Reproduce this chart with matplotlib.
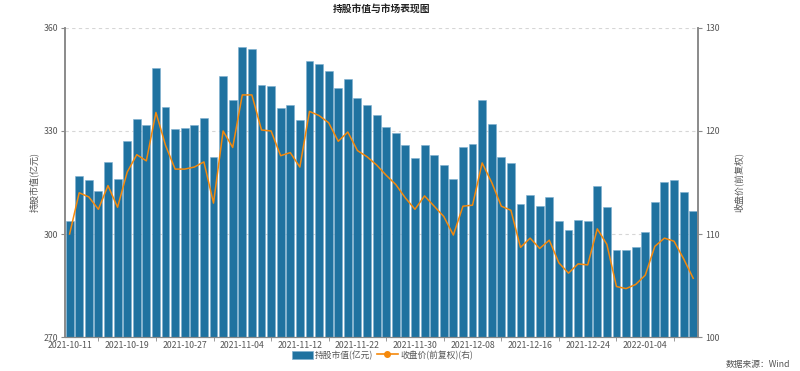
import pandas as pd
import matplotlib.pyplot as plt
from matplotlib.lines import Line2D
from matplotlib.patches import Patch

plt.rcParams['font.family'] = ['Noto Sans CJK SC', 'DejaVu Sans']

# 交易日 2021-10-11 ~ 2022-01-11（剔除元旦假期 2022-01-03）
dates = pd.bdate_range('2021-10-11', '2022-01-11')
dates = dates[dates != pd.Timestamp('2022-01-03')]
date_labels = [d.strftime('%Y-%m-%d') for d in dates]

market_value = [303.8, 316.9, 315.7, 312.4, 321.1, 316.0, 327.0, 333.4, 331.8, 348.2,
                336.9, 330.6, 331.0, 331.8, 333.8, 322.4, 345.9, 339.1, 354.5, 353.9,
                343.5, 343.0, 336.6, 337.6, 333.2, 350.5, 349.6, 347.6, 342.4, 345.1,
                339.5, 337.5, 334.6, 331.2, 329.4, 325.9, 322.0, 326.0, 323.1, 320.1,
                316.1, 325.4, 326.3, 339.0, 331.9, 322.3, 320.7, 308.6, 311.3, 308.3,
                310.9, 303.9, 301.1, 304.1, 303.8, 313.9, 307.8, 295.2, 295.2, 296.2,
                300.7, 309.4, 315.1, 315.8, 312.1, 306.7]

close_price = [110.0, 114.0, 113.6, 112.4, 114.7, 112.6, 116.0, 117.7, 117.1, 121.8,
               118.6, 116.3, 116.3, 116.5, 117.0, 113.0, 120.0, 118.4, 123.5, 123.5,
               120.1, 120.0, 117.6, 117.9, 116.5, 121.9, 121.5, 120.8, 119.0, 119.9,
               118.1, 117.5, 116.7, 115.7, 114.8, 113.5, 112.4, 113.7, 112.7, 111.7,
               109.9, 112.7, 112.8, 116.9, 115.0, 112.7, 112.3, 108.7, 109.6, 108.6,
               109.4, 107.2, 106.2, 107.1, 107.0, 110.5, 109.0, 104.9, 104.7, 105.1,
               106.0, 108.8, 109.6, 109.3, 107.6, 105.7]

bar_color = '#1f72a0'
line_color = '#f5890c'
axis_color = '#8a8a8a'
text_color = '#555555'

fig = plt.figure(figsize=(8, 3.71), dpi=100)
ax = fig.add_axes([0.081, 0.0916, 0.7915, 0.833])
x = list(range(len(date_labels)))

ax.bar(x, market_value, width=0.82, color=bar_color, edgecolor='#7fb0d0', linewidth=0.4, zorder=2)
ax.set_ylim(270, 360)
ax.set_yticks([270, 300, 330, 360])
ax.set_xlim(-0.5, len(x) - 0.5)
ax.grid(axis='y', linestyle=(0, (3, 3)), color='#d6d6d6', linewidth=0.8, zorder=0)

ax.set_xticks(x[::6])
ax.set_xticklabels(date_labels[::6])
ax.set_xticks(x[3::6], minor=True)
ax.tick_params(axis='x', which='major', length=0, pad=3, labelsize=6.3, colors=text_color)
ax.tick_params(axis='x', which='minor', length=3, color=axis_color)
ax.tick_params(axis='y', length=3, color=axis_color, labelsize=6.3, labelcolor=text_color, pad=2)
ax.set_ylabel('持股市值(亿元)', fontsize=6.5, color=text_color, labelpad=3)

ax2 = ax.twinx()
ax2.plot(x, close_price, color=line_color, linewidth=1.1, zorder=3)
ax2.set_ylim(100, 130)
ax2.set_yticks([100, 110, 120, 130])
ax2.tick_params(axis='y', length=3, color=axis_color, labelsize=6.3, labelcolor=text_color, pad=2)
ax2.set_ylabel('收盘价(前复权)', fontsize=6.5, color=text_color, rotation=90, labelpad=10)

for a in (ax, ax2):
    a.spines['top'].set_visible(False)
    a.spines['left'].set_color(axis_color)
    a.spines['right'].set_color(axis_color)
    a.spines['bottom'].set_color(axis_color)
    a.spines['left'].set_linewidth(1.2)
    a.spines['right'].set_linewidth(1.2)

fig.text(0.477, 0.975, '持股市值与市场表现图', ha='center', va='center', fontsize=7, fontweight='bold', color='#222222')

handles = [Patch(facecolor=bar_color, edgecolor='#7fb0d0', linewidth=0.5),
           Line2D([0], [0], color=line_color, marker='o', markersize=4, linewidth=1.2)]
fig.legend(handles, ['持股市值(亿元)', '收盘价(前复权)(右)'], loc='center', bbox_to_anchor=(0.478, 0.043),
           ncol=2, frameon=False, fontsize=6.3, handlelength=2.4, handleheight=1.0,
           columnspacing=0.4, handletextpad=0.3, labelcolor=text_color)

fig.text(0.988, 0.018, '数据来源：Wind', ha='right', va='center', fontsize=6.3, color=text_color)

plt.savefig('out.png', dpi=100)
